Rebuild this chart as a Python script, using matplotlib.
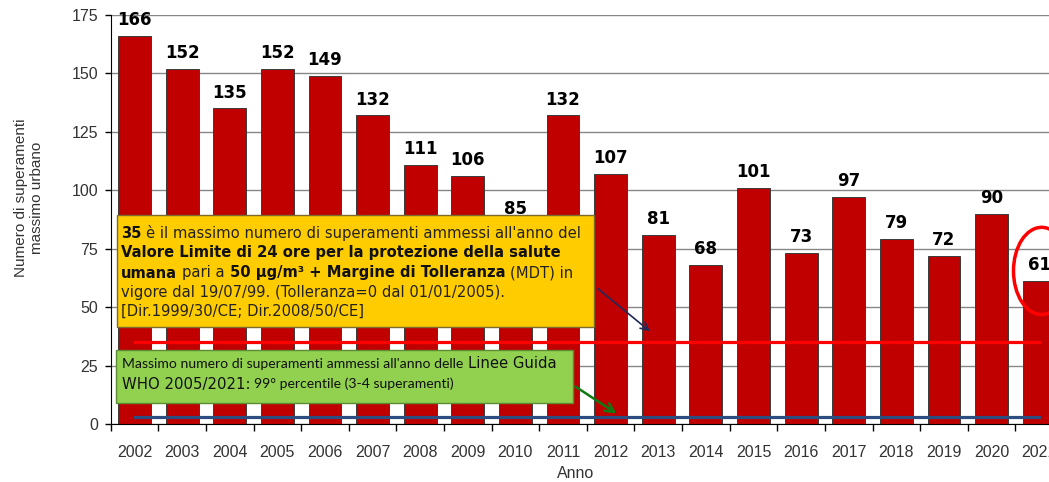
import numpy as np
import matplotlib
matplotlib.use("Agg")
import matplotlib.pyplot as plt
from matplotlib.patches import Ellipse, Rectangle
from matplotlib.transforms import IdentityTransform

years = ["2002", "2003", "2004", "2005", "2006", "2007", "2008", "2009", "2010", "2011",
         "2012", "2013", "2014", "2015", "2016", "2017", "2018", "2019", "2020", "2021"]
superamenti = [166, 152, 135, 152, 149, 132, 111, 106, 85, 132,
               107, 81, 68, 101, 73, 97, 79, 72, 90, 61]
limite_ue = 35
limite_who = 3

W, H = 1049, 482
fig = plt.figure(figsize=(W / 100, H / 100), dpi=100)
# the plot area runs past the right edge of the picture, like in the original
ax = fig.add_axes([110.7 / W, 58 / H, (1063 - 110.7) / W, (424 - 15) / H])

x = np.arange(len(years))
ax.bar(x, superamenti, width=0.69, color="#C00000", edgecolor="#3a3a3a", linewidth=0.7, zorder=2)
for xi, v in zip(x, superamenti):
    ax.annotate(str(v), (xi, v), xytext=(0, 5), textcoords="offset points", ha="center", va="bottom",
                fontsize=12, fontweight="bold", family="DejaVu Sans", color="black")

ax.plot([x[0], x[-1]], [limite_ue, limite_ue], color="#FF0000", lw=2.3, zorder=3)
ax.plot([x[0], x[-1]], [limite_who, limite_who], color="#2B4D80", lw=2.3, zorder=3)

ax.set_xlim(-0.5, len(years) - 0.5)
ax.set_ylim(0, 175)
ax.set_yticks(np.arange(0, 176, 25))
ax.yaxis.grid(True, color="#868686", lw=1, zorder=0)
ax.set_axisbelow(True)
ax.set_xticks(x)
ax.set_xticklabels(years)
ax.set_xticks(np.arange(-0.5, len(years), 1), minor=True)
ax.tick_params(axis="x", which="major", length=0, pad=15, labelsize=11.5, labelcolor="#333333")
ax.tick_params(axis="x", which="minor", length=5, width=1, direction="out")
ax.tick_params(axis="y", length=4, width=1, pad=5, labelsize=11.5, labelcolor="#333333")
for lab in ax.get_xticklabels() + ax.get_yticklabels():
    lab.set_family("Liberation Sans")
for s in ["top", "right"]:
    ax.spines[s].set_visible(False)
ax.spines["left"].set_color("black")
ax.spines["bottom"].set_color("black")

fig.text(29 / W, 1 - 198 / H, "Numero di superamenti\nmassimo urbano", rotation=90, ha="center", va="center",
         fontsize=11, family="Liberation Sans", color="#333333", linespacing=1.2)
fig.text(576 / W, 1 - 473 / H, "Anno", ha="center", va="center", fontsize=11.5,
         family="Liberation Sans", color="#333333")

# red circle round the last value
ax.add_patch(Ellipse((19.05, 65.5), 1.18, 37.3, fill=False, edgecolor="#FF0000", lw=2.5, zorder=5,
                     clip_on=False))

# annotation boxes (pixel coordinates of the picture, top-left origin)
def px_rect(x0, y0, x1, y1, face, edge):
    fig.patches.append(Rectangle((x0, H - y1), x1 - x0, y1 - y0, transform=IdentityTransform(),
                                 facecolor=face, edgecolor=edge, lw=1, zorder=6))

r = fig.canvas.get_renderer()

def rich_line(x0, y0, pieces):
    xx = x0
    for i, (s, kw) in enumerate(pieces):
        if i > 0:
            a = fig.text(0, 0, "x x", **kw)
            b = fig.text(0, 0, "xx", **kw)
            xx += a.get_window_extent(r).width - b.get_window_extent(r).width
            a.remove()
            b.remove()
        t = fig.text(xx, H - y0, s, transform=IdentityTransform(), ha="left", va="center", zorder=7, **kw)
        xx += t.get_window_extent(r).width

yb = dict(family="DejaVu Sans", fontsize=10.6, fontweight="bold", color="#111111")
yn = dict(family="DejaVu Sans", fontsize=10.6, color="#222222")
px_rect(117, 215, 594, 327, "#FFCC00", "#7a6a30")
rich_line(121, 233, [("35", yb), ("è il massimo numero di superamenti ammessi all'anno del", yn)])
rich_line(121, 253, [("Valore Limite di 24 ore per la protezione della salute", yb)])
rich_line(121, 273, [("umana", yb), ("pari a", yn), ("50 µg/m³ + Margine di Tolleranza", yb), ("(MDT) in", yn)])
rich_line(121, 292, [("vigore dal 19/07/99. (Tolleranza=0 dal 01/01/2005).", yn)])
rich_line(121, 311, [("[Dir.1999/30/CE; Dir.2008/50/CE]", yn)])

gs = dict(family="Lato", fontsize=10.1, color="#111111")
gb = dict(family="DejaVu Sans", fontsize=10.7, color="#111111")
px_rect(116, 350, 573, 403, "#92D050", "#5b8c32")
rich_line(122, 364, [("Massimo numero di superamenti ammessi all'anno delle", gs), ("Linee Guida", gb)])
rich_line(122, 384, [("WHO 2005/2021:", gb), ("99° percentile (3-4 superamenti)", gs)])

# arrows from the boxes to the limit lines
freccia_ue = [(9.69, 58.6), (10.87, 38.9)]
freccia_who = [(9.21, 16.7), (10.17, 3.85)]
ax.annotate("", xy=freccia_ue[1], xytext=freccia_ue[0],
            arrowprops=dict(arrowstyle="->", color="#1F2A5A", lw=1.2, mutation_scale=14), zorder=6)
ax.annotate("", xy=freccia_who[1], xytext=freccia_who[0],
            arrowprops=dict(arrowstyle="->", color="#0E7A12", lw=1.8, mutation_scale=16), zorder=6)

fig.savefig("out.png", dpi=100)
